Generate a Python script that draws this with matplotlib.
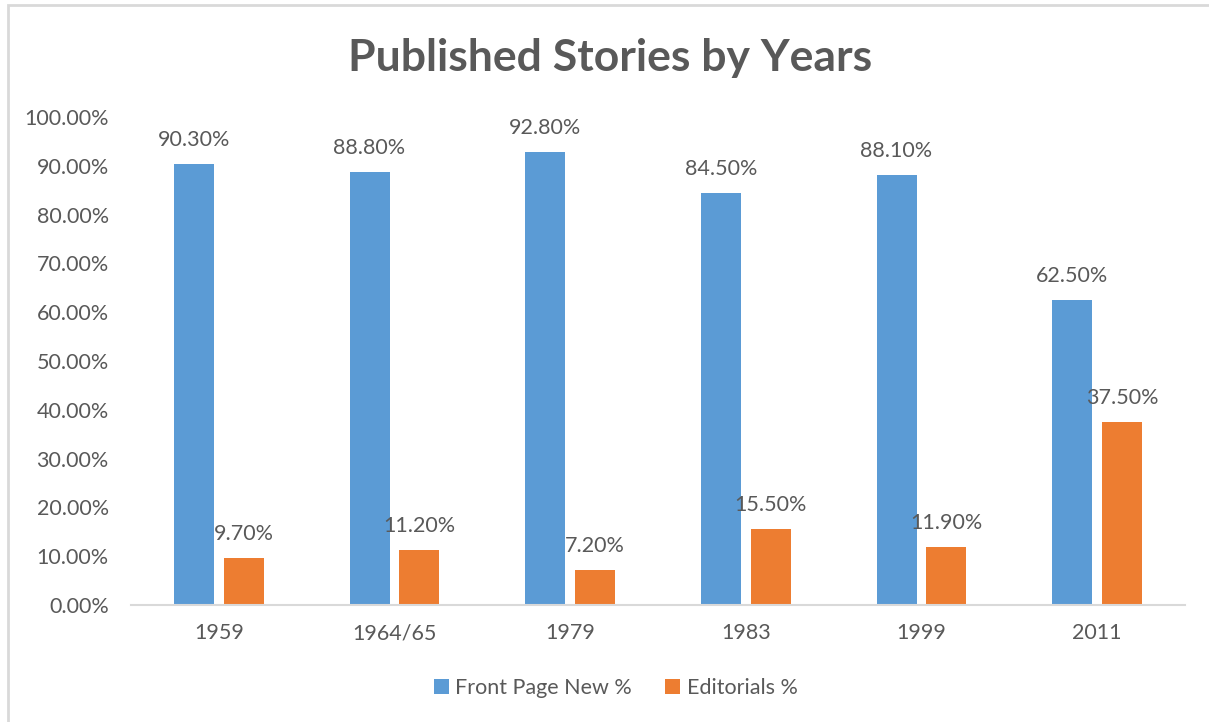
import matplotlib.pyplot as plt
from matplotlib.patches import Rectangle
from matplotlib.ticker import FuncFormatter, MultipleLocator
import numpy as np

# data
years = ['1959', '1964/65', '1979', '1983', '1999', '2011']
front_page = [90.3, 88.8, 92.8, 84.5, 88.1, 62.5]
editorials = [9.7, 11.2, 7.2, 15.5, 11.9, 37.5]

blue = '#5B9BD5'
orange = '#ED7D31'
grey = '#595959'

plt.rcParams['font.family'] = ['Lato', 'DejaVu Sans']

fig = plt.figure(figsize=(12.09, 7.22), dpi=100)
fig.patch.set_facecolor('white')

# chart frame
fig.patches.append(Rectangle((8 / 1209, -0.05), 1.1, 1 - 5 / 722 + 0.05,
                             transform=fig.transFigure, fill=False,
                             edgecolor='#d9d9d9', linewidth=2))

ax = fig.add_axes([131 / 1209, 117 / 722, 1054 / 1209, 488 / 722])

x = np.arange(len(years))
w = 0.228
off = 0.142
b1 = ax.bar(x - off, front_page, w, color=blue, label='Front Page New %')
b2 = ax.bar(x + off, editorials, w, color=orange, label='Editorials %')

for bars, vals in [(b1, front_page), (b2, editorials)]:
    for b, v in zip(bars, vals):
        ax.annotate(f'{v:.2f}%', (b.get_x() + b.get_width() / 2, v),
                    xytext=(0, 10), textcoords='offset points',
                    ha='center', va='bottom', fontsize=15.5, color=grey)

ax.set_xlim(-0.5, len(years) - 0.5)
ax.set_ylim(0, 100)
ax.yaxis.set_major_locator(MultipleLocator(10))
ax.yaxis.set_major_formatter(FuncFormatter(lambda v, p: f'{v:.2f}%'))
ax.set_xticks(x)
ax.set_xticklabels(years)
ax.tick_params(axis='both', length=0, labelsize=15.5, labelcolor=grey)
ax.tick_params(axis='x', pad=13)
ax.tick_params(axis='y', pad=16)

for s in ['top', 'right', 'left']:
    ax.spines[s].set_visible(False)
ax.spines['bottom'].set_color('#d9d9d9')
ax.spines['bottom'].set_linewidth(1.5)

fig.text(0.505, 1 - 58 / 722, 'Published Stories by Years', ha='center',
         va='center', fontsize=32, fontweight='bold', color=grey)

fig.legend(handles=[b1, b2], loc='center',
           bbox_to_anchor=(0.505 + 5 / 1209, 1 - 688 / 722),
           ncol=2, frameon=False, fontsize=15.5, labelcolor=grey,
           handlelength=0.7, handleheight=0.7, handletextpad=0.3,
           columnspacing=1.55)

fig.savefig('out.png', dpi=100)
